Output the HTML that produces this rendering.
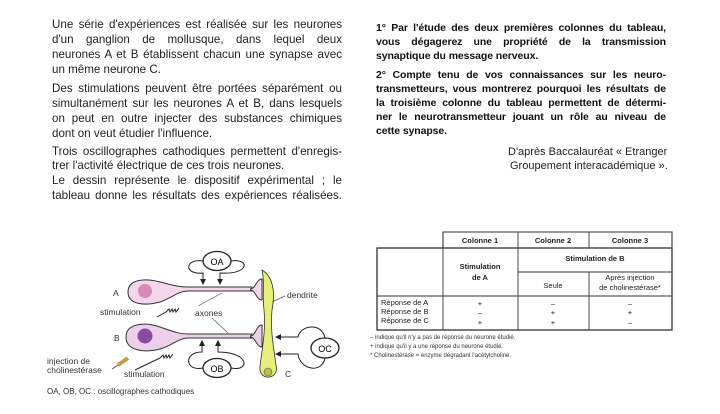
<!DOCTYPE html>
<html><head><meta charset="utf-8"><style>
body{margin:0;width:720px;height:414px;background:#fff;overflow:hidden;position:relative;font-family:"Liberation Sans",sans-serif;color:#222}
.l{position:absolute;font-size:11.6px;line-height:14px;white-space:nowrap}
.j{text-align:justify;text-align-last:justify;white-space:normal}
.b{font-weight:bold;font-size:10.5px;color:#111;letter-spacing:-0.1px}
svg text{font-family:"Liberation Sans",sans-serif}
</style></head><body>
<div class="l j" style="left:52px;top:18px;width:290px">Une série d'expériences est réalisée sur les neurones</div>
<div class="l j" style="left:52px;top:33px;width:290px">d'un ganglion de mollusque, dans lequel deux</div>
<div class="l j" style="left:52px;top:48px;width:290px">neurones A et B établissent chacun une synapse avec</div>
<div class="l" style="left:52px;top:63px">un même neurone C.</div>
<div class="l j" style="left:52px;top:82px;width:290px">Des stimulations peuvent être portées séparément ou</div>
<div class="l j" style="left:52px;top:97px;width:290px">simultanément sur les neurones A et B, dans lesquels</div>
<div class="l j" style="left:52px;top:112px;width:290px">on peut en outre injecter des substances chimiques</div>
<div class="l" style="left:52px;top:127px">dont on veut étudier l'influence.</div>
<div class="l j" style="left:52px;top:145px;width:290px">Trois oscillographes cathodiques permettent d'enregis-</div>
<div class="l" style="left:52px;top:159px">trer l'activité électrique de ces trois neurones.</div>
<div class="l j" style="left:52px;top:174px;width:290px">Le dessin représente le dispositif expérimental ; le</div>
<div class="l j" style="left:52px;top:189px;width:290px">tableau donne les résultats des expériences réalisées.</div>

<div class="l j b" style="left:376px;top:21px;width:290px">1° Par l'étude des deux premières colonnes du tableau,</div>
<div class="l j b" style="left:376px;top:35px;width:290px">vous dégagerez une propriété de la transmission</div>
<div class="l b" style="left:376px;top:49px">synaptique du message nerveux.</div>
<div class="l j b" style="left:376px;top:68px;width:290px">2° Compte tenu de vos connaissances sur les neuro-</div>
<div class="l j b" style="left:376px;top:82px;width:290px">transmetteurs, vous montrerez pourquoi les résultats de</div>
<div class="l j b" style="left:376px;top:96px;width:290px">la troisième colonne du tableau permettent de détermi-</div>
<div class="l j b" style="left:376px;top:110px;width:290px">ner le neurotransmetteur jouant un rôle au niveau de</div>
<div class="l b" style="left:376px;top:124px">cette synapse.</div>
<div class="l" style="left:508px;top:145px;font-size:11px">D'après Baccalauréat « Etranger</div>
<div class="l" style="left:510px;top:159px;font-size:11px">Groupement interacadémique ».</div>

<svg width="720" height="414" style="position:absolute;left:0;top:0" xmlns="http://www.w3.org/2000/svg">
<defs><marker id="ar" markerWidth="6" markerHeight="6" refX="5" refY="3" orient="auto"><path d="M0,0L6,3L0,6z" fill="#222"/></marker></defs>
<path d="M128,292 C128,279 145,278 160,282 C172,285 178,287 188,287 L252,287 L252,291 L188,291 C178,291 172,298 160,302 C145,306 128,305 128,292Z" fill="#f6d6ea" stroke="#333" stroke-width="1"/>
<path d="M250,289 C256,289 256,279 262,279 L262,300 C256,300 256,290 250,290" fill="#f6d6ea" stroke="#333" stroke-width="1"/>
<circle cx="145" cy="291" r="7" fill="#d88ab8"/>
<path d="M126,337 C126,323 145,322 160,327 C172,331 178,334 188,334 L252,334 L252,338 L188,338 C178,338 172,346 160,349 C145,353 126,351 126,337Z" fill="#ecd0ea" stroke="#333" stroke-width="1"/>
<path d="M250,336 C256,336 256,325 262,325 L262,347 C256,347 256,337 250,337" fill="#ecd0ea" stroke="#333" stroke-width="1"/>
<circle cx="145" cy="336" r="7.5" fill="#8a4aa0"/>
<path d="M262,270 C272,276 276,290 272,310 C270,330 274,350 276,365 C280,380 258,382 260,366 C262,350 266,330 264,310 C262,295 265,282 262,270Z" fill="#e6ef7a" stroke="#333" stroke-width="0.8"/>
<circle cx="268" cy="372" r="4" fill="#b6c24a" stroke="#555" stroke-width="0.6"/>
<ellipse cx="217" cy="261" rx="14" ry="9.5" fill="#fff" stroke="#222" stroke-width="1.3"/>
<text x="217" y="265" font-size="9" text-anchor="middle">OA</text>
<path d="M203,261 C185,258 183,275 203,273 L203,284" fill="none" stroke="#222" marker-end="url(#ar)"/>
<path d="M231,261 C250,258 250,275 220,273 L220,284" fill="none" stroke="#222" marker-end="url(#ar)"/>
<ellipse cx="217" cy="368" rx="14" ry="9.5" fill="#fff" stroke="#222" stroke-width="1.3"/>
<text x="217" y="372" font-size="9" text-anchor="middle">OB</text>
<path d="M203,368 C185,372 183,352 202,352 L202,341" fill="none" stroke="#222" marker-end="url(#ar)"/>
<path d="M231,368 C250,372 250,352 218,352 L218,341" fill="none" stroke="#222" marker-end="url(#ar)"/>
<ellipse cx="325" cy="348" rx="14" ry="10" fill="#fff" stroke="#222" stroke-width="1.3"/>
<text x="325" y="352" font-size="9" text-anchor="middle">OC</text>
<path d="M325,338 C322,322 300,325 298,337 L276,337" fill="none" stroke="#222" marker-end="url(#ar)"/>
<path d="M325,358 C322,374 300,370 298,354 L276,354" fill="none" stroke="#222" marker-end="url(#ar)"/>
<path d="M157,317 L166,312" stroke="#222"/><path d="M166,312 l3,-3 l1,3 l2,-3 l1,3 l2,-3 l1,3 l3,-4" fill="none" stroke="#222"/>
<path d="M135,370 L160,358" stroke="#222"/><path d="M160,358 l3,-3 l1,3 l2,-3 l1,3 l2,-3 l1,3 l3,-4" fill="none" stroke="#222"/>
<path d="M128,358 l-10,7" stroke="#c8a040" stroke-width="4"/><path d="M118,365 l-6,4" stroke="#555"/>
<path d="M198,306 L222,293" stroke="#555" stroke-width="0.7"/>
<path d="M212,318 L228,333" stroke="#555" stroke-width="0.7"/>
<path d="M285,296 L272,302" stroke="#555" stroke-width="0.7"/>
<g font-size="8.5" fill="#333">
<text x="113" y="296">A</text>
<text x="114" y="341">B</text>
<text x="100" y="315">stimulation</text>
<text x="195" y="316">axones</text>
<text x="287" y="298">dendrite</text>
<text x="47" y="364">injection de</text>
<text x="47" y="373">cholinestérase</text>
<text x="124" y="377">stimulation</text>
<text x="285" y="377">C</text>
<text x="47" y="394" font-size="8">OA, OB, OC : oscillographes cathodiques</text>
</g>
<g stroke="#333" fill="none">
<rect x="377" y="248" width="295" height="82" stroke-width="1.3"/>
<path d="M443,248 V232 H672 V248" stroke-width="1.1"/>
<path d="M443,232 V330 M518,232 V330 M589,232 V248 M589,272 V330 M518,272 H672 M377,296 H672" stroke-width="0.9"/>
</g>
<g font-size="7.5" fill="#222" text-anchor="middle">
<text x="480" y="243" font-weight="bold">Colonne 1</text>
<text x="553" y="243" font-weight="bold">Colonne 2</text>
<text x="630" y="243" font-weight="bold">Colonne 3</text>
<text x="595" y="261" font-weight="bold">Stimulation de B</text>
<text x="480" y="269" font-weight="bold">Stimulation</text>
<text x="480" y="280" font-weight="bold">de A</text>
<text x="553" y="288">Seule</text>
<text x="630" y="280">Après injection</text>
<text x="630" y="290">de cholinestérase*</text>
<text x="480" y="306">+</text><text x="480" y="315">–</text><text x="480" y="325">+</text>
<text x="553" y="306">–</text><text x="553" y="315">+</text><text x="553" y="325">+</text>
<text x="630" y="306">–</text><text x="630" y="315">+</text><text x="630" y="325">–</text>
</g>
<g font-size="7.5" fill="#222">
<text x="381" y="305">Réponse de A</text>
<text x="381" y="314">Réponse de B</text>
<text x="381" y="323">Réponse de C</text>
</g>
<g font-size="6" fill="#333">
<text x="370" y="339">–  indique qu'il n'y a pas de réponse du neurone étudié.</text>
<text x="370" y="348">+  indique qu'il y a une réponse du neurone étudié.</text>
<text x="370" y="357">*  Cholinestérase = enzyme dégradant l'acétylcholine.</text>
</g>
</svg>
</body></html>
